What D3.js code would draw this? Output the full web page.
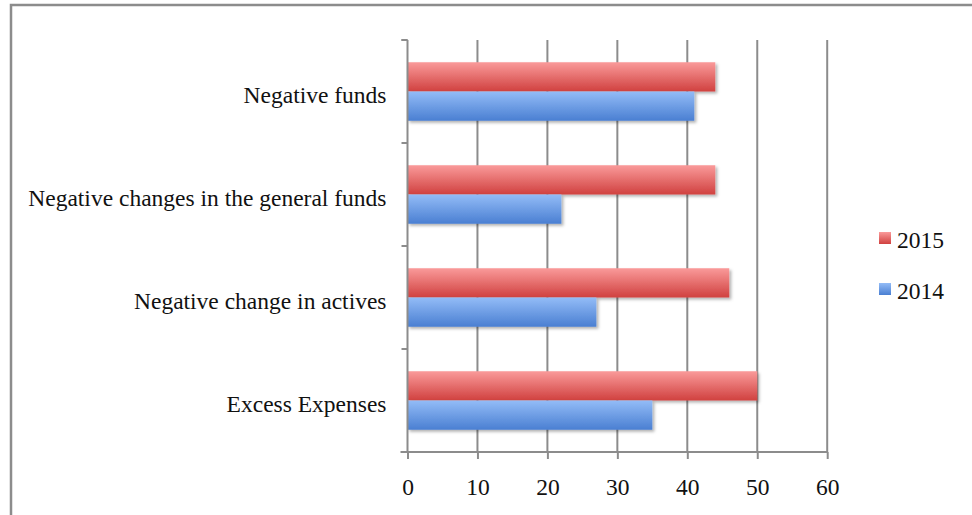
<!DOCTYPE html>
<html>
<head>
<meta charset="utf-8">
<script src="https://cdn.jsdelivr.net/npm/d3@7"></script>
<style>
  body { margin: 0; background: white; }
  text { font-family: "Liberation Serif", "DejaVu Serif", serif; fill: #111; }
</style>
</head>
<body>
<script>
// categories from bottom to top, as they appear on the chart
const categories = ["Excess Expenses", "Negative change in actives", "Negative changes in the general funds", "Negative funds"];
const values2015 = [50, 46, 44, 44];
const values2014 = [35, 27, 22, 41];
const xTicks = [0, 10, 20, 30, 40, 50, 60];
const seriesNames = ["2015", "2014"];

const width = 972, height = 515;
const margin = {top: 40, right: 145, bottom: 63, left: 407.5};
const fontSize = 23.5;

const svg = d3.select("body").append("svg")
    .attr("width", width)
    .attr("height", height);

// gradients for the bars
const defs = svg.append("defs");
function grad(id, top, bottom) {
  const g = defs.append("linearGradient").attr("id", id)
      .attr("x1", 0).attr("y1", 0).attr("x2", 0).attr("y2", 1);
  g.append("stop").attr("offset", "0%").attr("stop-color", top);
  g.append("stop").attr("offset", "100%").attr("stop-color", bottom);
}
grad("red", "#fa9a9a", "#d0413f");
grad("blue", "#93bcf7", "#4a7fd2");
const shadow = defs.append("filter").attr("id", "shadow")
    .attr("x", "-5%").attr("y", "-20%").attr("width", "115%").attr("height", "160%");
shadow.append("feDropShadow").attr("dx", 2).attr("dy", 2).attr("stdDeviation", 1.5)
    .attr("flood-color", "#000").attr("flood-opacity", 0.3);

// frame (only left and top edges show)
svg.append("path")
    .attr("d", `M11,${height} V5 H${width}`)
    .attr("fill", "none")
    .attr("stroke", "#8c8c8c")
    .attr("stroke-width", 2.5);

const x = d3.scaleLinear().domain([0, 60]).range([margin.left, width - margin.right + 0.2]);
const y = d3.scaleBand().domain(categories.slice().reverse())
    .range([margin.top, height - margin.bottom]);
const inner = d3.scaleBand().domain(seriesNames)
    .range([0, y.bandwidth()]).paddingOuter(0.76).paddingInner(0);

// vertical gridlines
svg.append("g")
  .selectAll("line")
  .data(xTicks.slice(1))
  .join("line")
    .attr("x1", d => x(d)).attr("x2", d => x(d))
    .attr("y1", margin.top).attr("y2", height - margin.bottom)
    .attr("stroke", "#8c8c8c").attr("stroke-width", 2);

// bars
const groups = svg.append("g")
  .selectAll("g")
  .data(categories.map((c, i) => ({c, v: [values2015[i], values2014[i]]})))
  .join("g")
    .attr("transform", d => `translate(0,${y(d.c)})`);

groups.selectAll("rect")
  .data(d => d.v.map((v, j) => ({s: seriesNames[j], v})))
  .join("rect")
    .attr("x", x(0))
    .attr("y", d => inner(d.s))
    .attr("width", d => x(d.v) - x(0))
    .attr("height", inner.bandwidth())
    .attr("fill", d => d.s === "2015" ? "url(#red)" : "url(#blue)")
    .attr("filter", "url(#shadow)");

// x axis
const xAxis = svg.append("g")
    .attr("transform", `translate(0,${height - margin.bottom})`)
    .call(d3.axisBottom(x).tickValues(xTicks).tickSize(7).tickSizeOuter(0).tickPadding(0));
xAxis.select(".domain").attr("d", `M${x(0) - 7},0H${x(60)}`)
    .attr("stroke", "#8c8c8c").attr("stroke-width", 2);
xAxis.selectAll(".tick line").attr("stroke", "#8c8c8c").attr("stroke-width", 2);
xAxis.selectAll(".tick text")
    .attr("y", 43)
    .attr("dy", null)
    .attr("font-size", fontSize)
    .attr("font-family", "Liberation Serif, serif")
    .attr("fill", "#111");

// y axis
const yAxis = svg.append("g")
    .attr("transform", `translate(${x(0)},0)`);
yAxis.append("line")
    .attr("y1", margin.top).attr("y2", height - margin.bottom)
    .attr("stroke", "#8c8c8c").attr("stroke-width", 2);
const yEdges = categories.map(c => y(c)).concat([margin.top]);
yAxis.selectAll(".tk")
  .data(yEdges)
  .join("line")
    .attr("x1", -6).attr("x2", 0)
    .attr("y1", d => d).attr("y2", d => d)
    .attr("stroke", "#8c8c8c").attr("stroke-width", 2);
yAxis.selectAll(".lbl")
  .data(categories)
  .join("text")
    .attr("x", -21)
    .attr("y", d => y(d) + y.bandwidth() / 2 + 11.5)
    .attr("text-anchor", "end")
    .attr("font-size", fontSize)
    .text(d => d);

// legend
const legend = svg.append("g")
  .selectAll("g")
  .data(seriesNames)
  .join("g")
    .attr("transform", (d, i) => `translate(879,${248 + i * 51})`);
legend.append("rect")
    .attr("y", -16).attr("width", 12).attr("height", 12)
    .attr("fill", d => d === "2015" ? "url(#red)" : "url(#blue)");
legend.append("text")
    .attr("x", 18).attr("y", 0)
    .attr("font-size", fontSize)
    .text(d => d);
</script>
</body>
</html>
